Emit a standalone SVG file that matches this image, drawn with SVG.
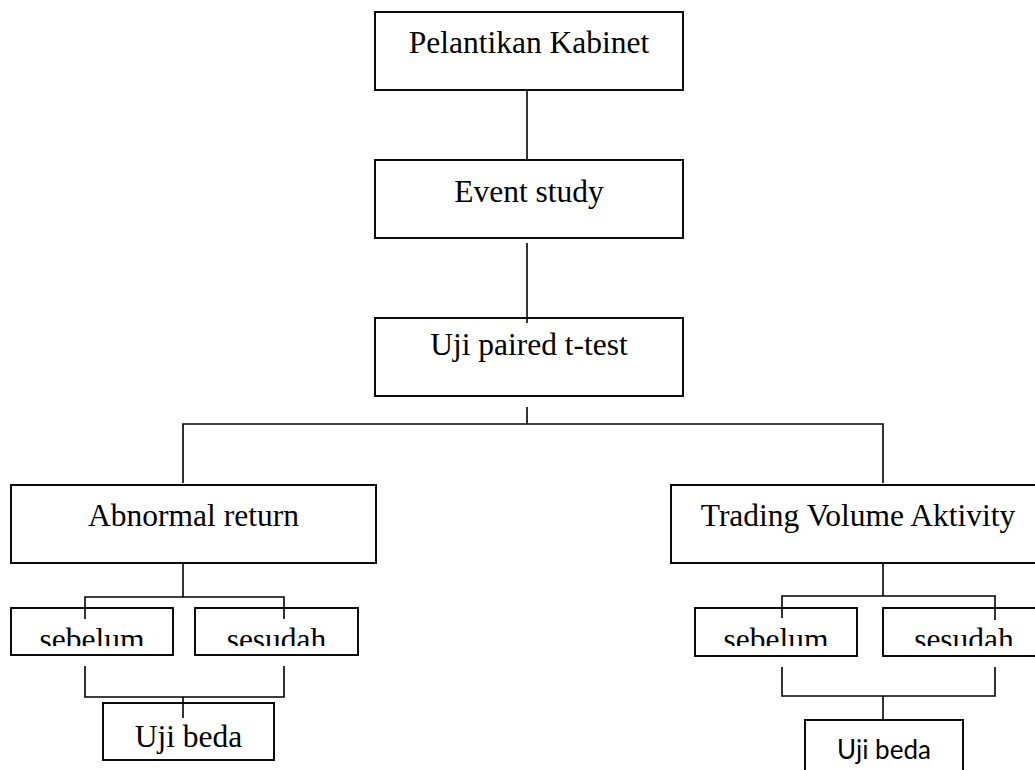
<svg xmlns="http://www.w3.org/2000/svg" width="1035" height="770" viewBox="0 0 1035 770">
<style>
.box{fill:#fff;stroke:#000;stroke-width:1.9}
.t{font-family:"Liberation Serif","Times New Roman",serif;font-size:31.5px;fill:#000;text-anchor:middle}
.s{font-family:Lato,"Liberation Sans",sans-serif;font-size:26px;fill:#000;text-anchor:middle}
.ln{fill:none;stroke:#000;stroke-width:1.6}
</style>
<defs>
<clipPath id="clipL"><rect x="0" y="600" width="1035" height="46"/></clipPath>
</defs>
<rect width="1035" height="770" fill="#fff"/>
<g id="n1"><rect class="box" x="375" y="12" width="308" height="78"/><text class="t" x="529" y="53">Pelantikan Kabinet</text></g>
<g id="n2"><rect class="box" x="375" y="160" width="308" height="78"/><text class="t" x="529" y="202">Event study</text></g>
<g id="n3"><rect class="box" x="375" y="318" width="308" height="78"/><text class="t" x="529" y="355">Uji paired t-test</text></g>
<g id="n4"><rect class="box" x="11" y="485" width="365" height="78"/><text class="t" x="193.5" y="526">Abnormal return</text></g>
<g id="n5"><rect class="box" x="671" y="485" width="380" height="78"/><text class="t" x="858" y="526">Trading Volume Aktivity</text></g>
<g id="n6"><rect class="box" x="11" y="608" width="162" height="47"/><text class="t" x="92" y="650" clip-path="url(#clipL)">sebelum</text></g>
<g id="n7"><rect class="box" x="195" y="608" width="163" height="47"/><text class="t" x="276.5" y="650" clip-path="url(#clipL)">sesudah</text></g>
<g id="n8"><rect class="box" x="695" y="608" width="162" height="48"/><text class="t" x="776" y="650" clip-path="url(#clipL)">sebelum</text></g>
<g id="n9"><rect class="box" x="883" y="608" width="170" height="48"/><text class="t" x="964" y="650" clip-path="url(#clipL)">sesudah</text></g>
<g id="n10"><rect class="box" x="103" y="703" width="171" height="57"/><text class="t" x="188.5" y="747">Uji beda</text></g>
<g id="n11"><rect class="box" x="805" y="720" width="158" height="70"/><text class="s" x="884" y="759">Uji beda</text></g>
<g id="connectors">
<path class="ln" d="M527,90 V160"/>
<path class="ln" d="M527,243 V323"/>
<path class="ln" d="M527,407 V424"/>
<path class="ln" d="M183,483 V424 H883 V483"/>
<path class="ln" d="M183,563 V597"/>
<path class="ln" d="M85,619 V597 H284 V619"/>
<path class="ln" d="M85,666 V697 H284 V666"/>
<path class="ln" d="M183,697 V718"/>
<path class="ln" d="M883,563 V596"/>
<path class="ln" d="M782,618 V596 H995 V620"/>
<path class="ln" d="M782,667 V696 H995 V667"/>
<path class="ln" d="M883,696 V720"/>
</g>
</svg>
